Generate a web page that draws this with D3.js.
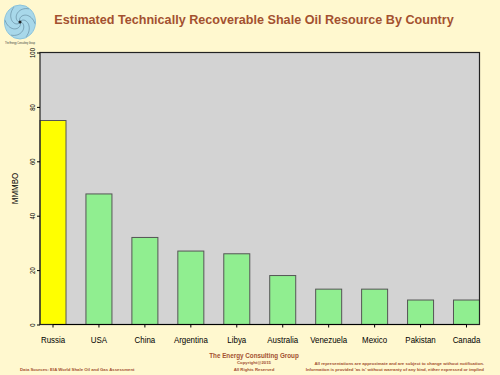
<!DOCTYPE html>
<html>
<head>
<meta charset="utf-8">
<script src="https://cdn.jsdelivr.net/npm/d3@7"></script>
<style>
  body { margin: 0; background: #fff8cf; }
  svg { display: block; font-family: 'Liberation Sans', Arial, sans-serif; }
  .axis path, .axis line { stroke: #000; }
  .axis text { fill: #000; }
</style>
</head>
<body>
<svg id="chart" width="500" height="375"></svg>
<script>
// Data
const countries = ['Russia', 'USA', 'China', 'Argentina', 'Libya',
  'Australia', 'Venezuela', 'Mexico', 'Pakistan', 'Canada'];
const resources = [75, 48, 32, 27, 26, 18, 13, 13, 9, 9];
const yTicks = [0, 20, 40, 60, 80, 100];

const margin = { left: 40, right: 479.5, top: 52.5, bottom: 324.5 };

const svg = d3.select('#chart');

svg.append('rect')
  .attr('width', 500)
  .attr('height', 375)
  .attr('fill', '#fff8cf');

/**
 * Squeezes a text horizontally, the reference font is a bit narrower
 */
function narrow(sel, k) {
  sel.each(function () {
    const w = this.getComputedTextLength();
    d3.select(this)
      .attr('textLength', w * k)
      .attr('lengthAdjust', 'spacingAndGlyphs');
  });
}

/**
 * Draws the small spiral logo in the top-left corner
 */
function addLogo(g) {
  const logo = g.append('g').attr('transform', 'translate(20,22)');
  logo.append('ellipse')
    .attr('rx', 15.5)
    .attr('ry', 17)
    .attr('fill', '#a8d8ea')
    .attr('stroke', '#8cc4dc');
  // spiral arms
  for (let k = 0; k < 6; k++) {
    const pts = d3.range(0, 1.01, 0.05).map((t) => {
      const a = k * Math.PI / 3 + t * 2.2;
      const r = t * 15;
      return [r * Math.cos(a), r * Math.sin(a) * 1.08];
    });
    logo.append('path')
      .attr('d', d3.line()(pts))
      .attr('fill', 'none')
      .attr('stroke', '#4a6b80')
      .attr('stroke-width', 0.6)
      .attr('opacity', 0.8);
  }
  logo.append('circle').attr('r', 1.5).attr('fill', '#222');
  g.append('text')
    .attr('x', 5)
    .attr('y', 44)
    .attr('font-size', 2.6)
    .attr('textLength', 30)
    .attr('lengthAdjust', 'spacingAndGlyphs')
    .attr('fill', '#333')
    .text('The Energy Consulting Group');
}

function addTitle(g) {
  g.append('text')
    .attr('x', 254)
    .attr('y', 23.5)
    .attr('text-anchor', 'middle')
    .attr('font-size', 12.6)
    .attr('font-weight', 'bold')
    .attr('fill', '#a3512f')
    .text('Estimated Technically Recoverable Shale Oil Resource By Country');
}

function addFooter(g) {
  const c = '#a3512f';
  g.append('text').attr('x', 254).attr('y', 357.5).attr('text-anchor', 'middle')
    .attr('font-size', 6.3).attr('font-weight', 'bold').attr('fill', c)
    .text('The Energy Consulting Group');
  g.append('text').attr('x', 254).attr('y', 364).attr('text-anchor', 'middle')
    .attr('font-size', 4.3).attr('font-weight', 'bold').attr('fill', c)
    .text('Copyright@2015');
  g.append('text').attr('x', 254).attr('y', 371).attr('text-anchor', 'middle')
    .attr('font-size', 4.3).attr('font-weight', 'bold').attr('fill', c)
    .text('All Rights Reserved');
  g.append('text').attr('x', 20).attr('y', 371)
    .attr('font-size', 4.3).attr('font-weight', 'bold').attr('fill', c)
    .text('Data Sources: EIA World Shale Oil and Gas Assessment');
  g.append('text').attr('x', 484).attr('y', 364.5).attr('text-anchor', 'end')
    .attr('font-size', 4.3).attr('font-weight', 'bold').attr('fill', c)
    .text('All representations are approximate and are subject to change without notification.');
  g.append('text').attr('x', 484).attr('y', 371).attr('text-anchor', 'end')
    .attr('font-size', 4.3).attr('font-weight', 'bold').attr('fill', c)
    .text("Information is provided 'as is' without warranty of any kind, either expressed or implied");
}

addLogo(svg);
addTitle(svg);
addFooter(svg);

// Scales
const xScale = d3.scaleBand()
  .domain(countries)
  .range([margin.left, margin.right])
  .paddingInner(0.434)
  .paddingOuter(0);

const yScale = d3.scaleLinear()
  .domain([0, 100])
  .range([margin.bottom, margin.top]);

// Plot background
svg.append('rect')
  .attr('x', margin.left)
  .attr('y', margin.top)
  .attr('width', margin.right - margin.left)
  .attr('height', margin.bottom - margin.top)
  .attr('fill', '#d3d3d3');

// Bars
svg.append('g')
  .selectAll('rect')
  .data(countries)
  .enter()
  .append('rect')
  .attr('x', (d) => xScale(d))
  .attr('y', (d, i) => yScale(resources[i]))
  .attr('width', xScale.bandwidth())
  .attr('height', (d, i) => margin.bottom - yScale(resources[i]))
  .attr('fill', (d, i) => (i === 0 ? '#ffff00' : '#90ee90'))
  .attr('stroke', '#555')
  .attr('stroke-width', 1);

// Frame
svg.append('rect')
  .attr('x', margin.left)
  .attr('y', margin.top)
  .attr('width', margin.right - margin.left)
  .attr('height', margin.bottom - margin.top)
  .attr('fill', 'none')
  .attr('stroke', '#222')
  .attr('stroke-width', 1.2);

// Y axis, tick labels rotated like the reference
const yAxis = svg.append('g')
  .attr('class', 'axis')
  .attr('transform', `translate(${margin.left},0)`)
  .call(d3.axisLeft(yScale).tickValues(yTicks).tickSize(3));
yAxis.select('.domain').remove();
yAxis.selectAll('text')
  .attr('font-size', 7)
  .attr('transform', 'rotate(-90)')
  .attr('x', 0)
  .attr('y', -5.5)
  .attr('dy', 0)
  .attr('text-anchor', 'middle')
  .call(narrow, 0.85);

svg.append('text')
  .attr('transform', 'translate(18,' + (margin.top + margin.bottom) / 2 + ') rotate(-90)')
  .attr('text-anchor', 'middle')
  .attr('font-size', 9.5)
  .attr('fill', '#000')
  .text('MMMBO')
  .call(narrow, 0.84);

// X axis (red line between first and last category)
const xAxis = svg.append('g')
  .attr('class', 'axis')
  .attr('transform', `translate(0,${margin.bottom})`)
  .call(d3.axisBottom(xScale).tickSize(3).tickSizeOuter(0).tickPadding(9));
xAxis.select('.domain').remove();
xAxis.selectAll('line').attr('stroke', '#e0483c');
xAxis.selectAll('text').attr('font-size', 9).call(narrow, 0.88);
const first = xScale(countries[0]) + xScale.bandwidth() / 2;
const last = xScale(countries[countries.length - 1]) + xScale.bandwidth() / 2;
xAxis.append('line')
  .attr('x1', first)
  .attr('x2', last)
  .attr('y1', 0)
  .attr('y2', 0)
  .attr('stroke', '#e0483c')
  .attr('stroke-width', 1.2);
</script>
</body>
</html>
